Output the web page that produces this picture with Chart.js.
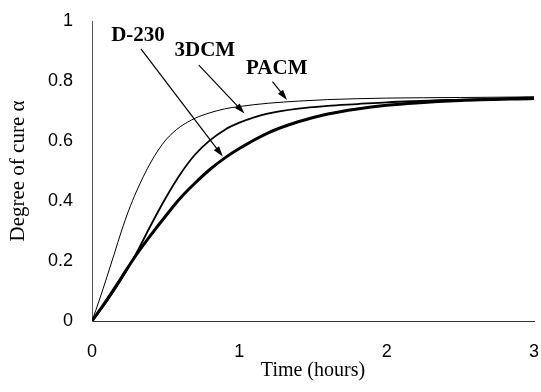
<!DOCTYPE html>
<html>
<head>
<meta charset="utf-8">
<script src="https://cdn.jsdelivr.net/npm/chart.js@4"></script>
<style>
  html, body { margin: 0; padding: 0; background: #fff; }
  #wrap { width: 541px; height: 392px; }
</style>
</head>
<body>
<div id="wrap"><canvas id="myChart" width="541" height="392"></canvas></div>
<script>
// time (hours) and degree of cure
var pacmT = [0, 0.05, 0.1, 0.15, 0.2, 0.25, 0.3, 0.35, 0.4, 0.45, 0.5, 0.55, 0.6, 0.7, 0.8, 0.9, 1.0, 1.2, 1.4, 1.6, 1.8, 2.0, 2.5, 3.0];
var pacmA = [0, 0.07, 0.145, 0.222, 0.3, 0.37, 0.43, 0.483, 0.53, 0.57, 0.603, 0.628, 0.648, 0.676, 0.694, 0.707, 0.715, 0.726, 0.733, 0.738, 0.741, 0.743, 0.745, 0.747];

var dcmT = [0, 0.1, 0.2, 0.3, 0.4, 0.5, 0.6, 0.7, 0.8, 0.9, 1.0, 1.1, 1.2, 1.4, 1.6, 1.8, 2.0, 2.5, 3.0];
var dcmA = [0, 0.065, 0.14, 0.225, 0.32, 0.41, 0.49, 0.555, 0.602, 0.637, 0.661, 0.679, 0.692, 0.708, 0.717, 0.723, 0.729, 0.738, 0.745];

var d230T = [0, 0.1, 0.2, 0.3, 0.4, 0.5, 0.6, 0.7, 0.8, 0.9, 1.0, 1.2, 1.4, 1.6, 1.8, 2.0, 2.2, 2.5, 3.0];
var d230A = [0, 0.07, 0.145, 0.22, 0.287, 0.35, 0.41, 0.46, 0.505, 0.543, 0.575, 0.628, 0.664, 0.69, 0.707, 0.719, 0.727, 0.735, 0.742];

var xTicks = [0, 1, 2, 3];
var yTicks = [0, 0.2, 0.4, 0.6, 0.8, 1];

// callout labels: text position and arrow (data coords)
var noteText = ["D-230", "3DCM", "PACM"];
var noteAt = [[0.312, 0.95], [0.766, 0.903], [1.254, 0.843]];
var arrowFrom = [[0.332, 0.907], [0.725, 0.853], [1.225, 0.798]];
var arrowTo = [[0.888, 0.548], [1.035, 0.692], [1.324, 0.737]];

function pts(xs, ys) {
    return xs.map(function(x, i){ return {x: x, y: ys[i]}; });
}

var callouts = {
    id: 'callouts',
    afterDatasetsDraw: function(chart) {
        var ctx = chart.ctx, xs = chart.scales.x, ys = chart.scales.y;
        ctx.save();
        ctx.fillStyle = '#000';
        ctx.strokeStyle = '#000';
        ctx.font = 'bold 21px "Liberation Serif", "Times New Roman", serif';
        ctx.textAlign = 'center';
        ctx.textBaseline = 'middle';
        for (var i = 0; i < noteText.length; i++) {
            ctx.fillText(noteText[i], xs.getPixelForValue(noteAt[i][0]), ys.getPixelForValue(noteAt[i][1]));
            var x0 = xs.getPixelForValue(arrowFrom[i][0]), y0 = ys.getPixelForValue(arrowFrom[i][1]);
            var x1 = xs.getPixelForValue(arrowTo[i][0]), y1 = ys.getPixelForValue(arrowTo[i][1]);
            var ang = Math.atan2(y1 - y0, x1 - x0);
            ctx.lineWidth = 1.2;
            ctx.beginPath();
            ctx.moveTo(x0, y0);
            ctx.lineTo(x1 - 8 * Math.cos(ang), y1 - 8 * Math.sin(ang));
            ctx.stroke();
            ctx.beginPath();
            ctx.moveTo(x1, y1);
            ctx.lineTo(x1 - 11 * Math.cos(ang - 0.3), y1 - 11 * Math.sin(ang - 0.3));
            ctx.lineTo(x1 - 11 * Math.cos(ang + 0.3), y1 - 11 * Math.sin(ang + 0.3));
            ctx.closePath();
            ctx.fill();
        }
        ctx.restore();
    }
};

var data = {
    datasets: [{
        label: "PACM",
        data: pts(pacmT, pacmA),
        borderColor: '#000',
        borderWidth: 1,
        pointRadius: 0,
        cubicInterpolationMode: 'monotone'
    }, {
        label: "3DCM",
        data: pts(dcmT, dcmA),
        borderColor: '#000',
        borderWidth: 1.8,
        pointRadius: 0,
        cubicInterpolationMode: 'monotone'
    }, {
        label: "D-230",
        data: pts(d230T, d230A),
        borderColor: '#000',
        borderWidth: 3,
        pointRadius: 0,
        cubicInterpolationMode: 'monotone'
    }]
};

var options = {
    responsive: false,
    animation: false,
    layout: { padding: { top: 21, right: 7, left: 0, bottom: 0 } },
    plugins: { legend: { display: false }, tooltip: { enabled: false } },
    scales: {
        x: {
            type: 'linear',
            min: 0, max: 3,
            afterBuildTicks: function(s){ s.ticks = xTicks.map(function(v){ return {value: v}; }); },
            afterFit: function(s){ s.height = 71; s.paddingLeft = 0; s.paddingRight = 0; },
            grid: { display: false, drawTicks: true, tickLength: 6, tickColor: '#555' },
            border: { color: '#333', width: 1 },
            ticks: { color: '#000', padding: 14, font: { family: '"Liberation Sans", Arial, sans-serif', size: 18 } },
            title: {
                display: true, text: 'Time (hours)', color: '#000',
                font: { family: '"Liberation Serif", "Times New Roman", serif', size: 20 },
                padding: { top: 0, bottom: 9 }
            }
        },
        y: {
            min: 0, max: 1,
            afterBuildTicks: function(s){ s.ticks = yTicks.map(function(v){ return {value: v}; }); },
            afterFit: function(s){ s.width = 92; s.paddingTop = 0; s.paddingBottom = 0; },
            grid: { display: false, drawTicks: true, tickLength: 7, tickColor: '#555' },
            border: { color: '#555', width: 1 },
            ticks: {
                color: '#000', padding: 12,
                font: { family: '"Liberation Sans", Arial, sans-serif', size: 18 },
                callback: function(v){ return String(v); }
            },
            title: {
                display: true, text: 'Degree of cure α', color: '#000',
                font: { family: '"Liberation Serif", "Times New Roman", serif', size: 21 },
                padding: { top: 6, bottom: 0 }
            }
        }
    }
};

var ctx = document.getElementById("myChart").getContext('2d');
var myChart = new Chart(ctx, {
    type: 'line',
    data: data,
    options: options,
    plugins: [callouts]
});
</script>
</body>
</html>
